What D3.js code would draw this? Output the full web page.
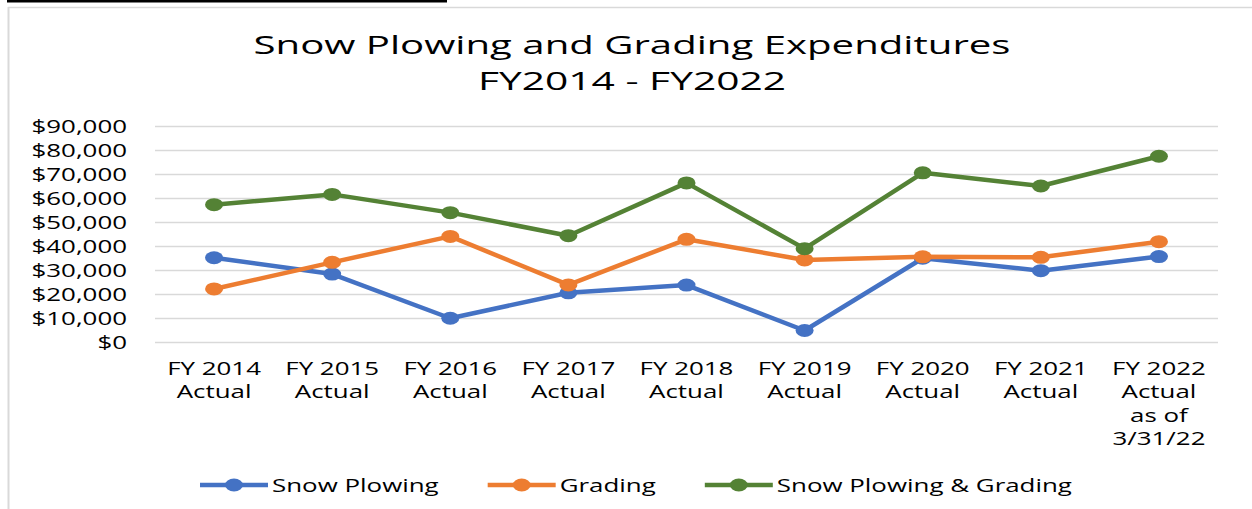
<!DOCTYPE html>
<html>
<head>
<meta charset="utf-8">
<script src="https://cdn.jsdelivr.net/npm/d3@7"></script>
<style>
  body { margin: 0; background: #fff; }
  svg { display: block; font-family: "Open Sans", sans-serif; }
</style>
</head>
<body>
<div class="container"></div>
<script>
// data
const categories = ["FY2014", "FY2015", "FY2016", "FY2017", "FY2018", "FY2019", "FY2020", "FY2021", "FY2022"];
const tickLabels = [
  ["FY 2014", "Actual"], ["FY 2015", "Actual"], ["FY 2016", "Actual"],
  ["FY 2017", "Actual"], ["FY 2018", "Actual"], ["FY 2019", "Actual"],
  ["FY 2020", "Actual"], ["FY 2021", "Actual"], ["FY 2022", "Actual", "as of", "3/31/22"]
];
const snowPlowing = [35100, 28300, 9900, 20500, 23700, 4800, 34900, 29700, 35600];
const grading = [22100, 33200, 44000, 23800, 42800, 34200, 35500, 35300, 41800];
const combined = [57200, 61500, 53900, 44300, 66300, 38900, 70500, 65000, 77400];
const seriesNames = ["Snow Plowing", "Grading", "Snow Plowing & Grading"];
const yTicks = [0, 10000, 20000, 30000, 40000, 50000, 60000, 70000, 80000, 90000];
const titleLines = ["Snow Plowing and Grading Expenditures", "FY2014 - FY2022"];

const colors = ["#4472c4", "#ed7d31", "#548235"];
const series = [snowPlowing, grading, combined];

const W = 1252, H = 509;
const sx = 1.4; // the reference is stretched horizontally
const plot = {left: 155, right: 1218, top: 126, bottom: 342};

const svg = d3.select(".container")
  .append("svg")
  .attr("width", W)
  .attr("height", H);

// frame pieces
svg.append("rect").attr("x", 7).attr("y", 0).attr("width", 440).attr("height", 2.5).attr("fill", "#000");
svg.append("line").attr("x1", 8).attr("x2", W).attr("y1", 7.5).attr("y2", 7.5)
  .attr("stroke", "#d9d9d9").attr("stroke-width", 1.5);
svg.append("line").attr("x1", 8.5).attr("x2", 8.5).attr("y1", 7).attr("y2", H)
  .attr("stroke", "#d9d9d9").attr("stroke-width", 2);

// title
const titleWidths = [757, 308];
const titleBase = [54, 90];
titleLines.forEach((t, i) => {
  svg.append("text")
    .attr("x", 632)
    .attr("y", titleBase[i])
    .attr("text-anchor", "middle")
    .attr("font-size", 25.5)
    .attr("fill", "#000")
    .attr("textLength", titleWidths[i])
    .attr("lengthAdjust", "spacingAndGlyphs")
    .text(t);
});

const x_scale = d3.scaleBand()
  .domain(categories)
  .range([plot.left, plot.right]);

const y_scale = d3.scaleLinear()
  .domain([0, 90000])
  .range([plot.bottom, plot.top]);

const cx = d => x_scale(d) + x_scale.bandwidth() / 2;

// y axis + gridlines
svg.append("g")
  .attr("transform", `translate(${plot.left},0)`)
  .call(d3.axisLeft(y_scale)
    .tickValues(yTicks)
    .tickSize(-(plot.right - plot.left))
    .tickFormat(d => "$" + d3.format(",")(d)))
  .call(g => g.select(".domain").remove())
  .call(g => g.selectAll(".tick line")
    .attr("stroke", "#d9d9d9")
    .attr("stroke-width", 1.5))
  .call(g => g.selectAll(".tick text")
    .attr("x", null)
    .attr("dy", "0.35em")
    .attr("transform", `translate(-28,0) scale(${sx},1)`)
    .attr("font-size", 18.5)
    .attr("font-family", "Open Sans, sans-serif")
    .attr("fill", "#000"));

// x tick labels
const xLab = svg.append("g")
  .selectAll("text")
  .data(categories)
  .join("text")
  .attr("transform", d => `translate(${cx(d)},375) scale(${sx},1)`)
  .attr("text-anchor", "middle")
  .attr("font-size", 18.5)
  .attr("fill", "#000");

xLab.selectAll("tspan")
  .data((d, i) => tickLabels[i])
  .join("tspan")
  .attr("x", 0)
  .attr("y", (d, i) => i * 23.5)
  .text(d => d);

// lines and markers
const line = d3.line()
  .x((d, i) => cx(categories[i]))
  .y(d => y_scale(d));

series.forEach((s, k) => {
  svg.append("path")
    .datum(s)
    .attr("fill", "none")
    .attr("stroke", colors[k])
    .attr("stroke-width", 4.5)
    .attr("stroke-linejoin", "round")
    .attr("d", line);

  svg.append("g")
    .selectAll("ellipse")
    .data(s)
    .join("ellipse")
    .attr("cx", (d, i) => cx(categories[i]))
    .attr("cy", d => y_scale(d))
    .attr("rx", 9)
    .attr("ry", 6.5)
    .attr("fill", colors[k]);
});

// legend
const legend = svg.append("g");
let lx = 200;
const ly = 485;
seriesNames.forEach((name, k) => {
  legend.append("line")
    .attr("x1", lx).attr("x2", lx + 68)
    .attr("y1", ly).attr("y2", ly)
    .attr("stroke", colors[k])
    .attr("stroke-width", 4.5);
  legend.append("ellipse")
    .attr("cx", lx + 34).attr("cy", ly)
    .attr("rx", 9).attr("ry", 6.5)
    .attr("fill", colors[k]);
  const t = legend.append("text")
    .attr("transform", `translate(${lx + 72},${ly + 7}) scale(${sx},1)`)
    .attr("font-size", 18.5)
    .attr("fill", "#000")
    .text(name);
  lx += 72 + t.node().getComputedTextLength() * sx + 49;
});
</script>
</body>
</html>
